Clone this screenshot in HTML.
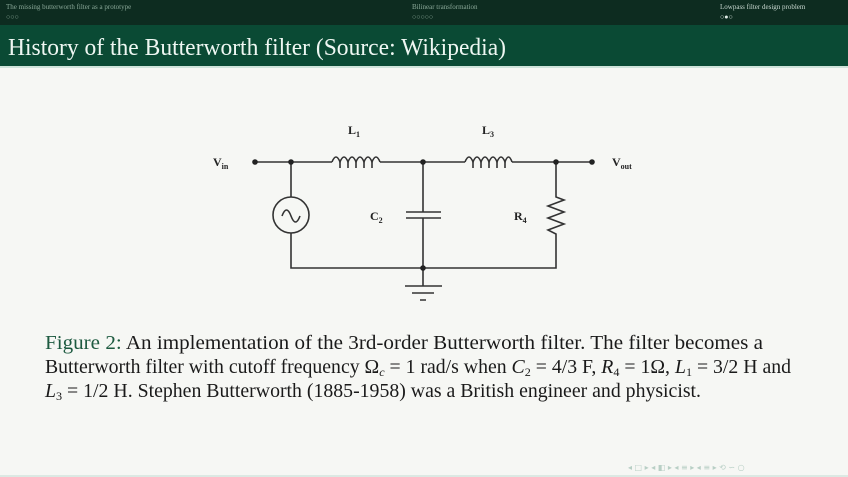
<!DOCTYPE html>
<html><head><meta charset="utf-8"><style>
html,body{margin:0;padding:0;}
body{width:848px;height:477px;overflow:hidden;background:#f6f7f4;font-family:"Liberation Serif",serif;position:relative;}
</style></head><body>
<svg width="848" height="477" viewBox="0 0 848 477" style="position:absolute;left:0;top:0">
<rect x="0" y="0" width="848" height="25" fill="#0d2c20"/>
<rect x="0" y="25" width="848" height="41" fill="#0a4a34"/>
<rect x="0" y="66" width="848" height="2" fill="#cfe3da"/>
<g font-family="Liberation Serif" font-size="7" fill="#8aa898">
<text x="6" y="9">The missing butterworth filter as a prototype</text>
<text x="6" y="19">○○○</text>
<text x="412" y="9">Bilinear transformation</text>
<text x="412" y="19">○○○○○</text>
<text x="720" y="9" fill="#c9d8d0">Lowpass filter design problem</text>
<text x="720" y="19" fill="#e0ece6">○●○</text>
</g>
<text x="8" y="55" font-family="Liberation Serif" font-size="24" fill="#eef7f2" textLength="498" lengthAdjust="spacingAndGlyphs">History of the Butterworth filter (Source: Wikipedia)</text>

<g stroke="#333" stroke-width="1.6" fill="none">
<path d="M255 162 H332 M380 162 H465 M512 162 H592"/>
<path d="M332 162 q4 -10 8 0 q4 -10 8 0 q4 -10 8 0 q4 -10 8 0 q4 -10 8 0 q4 -10 8 0"/>
<path d="M340 162 v6 M348 162 v6 M356 162 v6 M364 162 v6 M372 162 v6"/>
<path d="M465 162 q4 -10 8 0 q4 -10 8 0 q4 -10 8 0 q4 -10 8 0 q4 -10 8 0 q3.5 -10 7 0"/>
<path d="M473 162 v6 M481 162 v6 M489 162 v6 M497 162 v6 M505 162 v6"/>
<path d="M291 162 V197 M291 233 V268 H556 V234 L548 230 L564 224 L548 218 L564 212 L548 206 L564 200 L556 197 V162"/>
<circle cx="291" cy="215" r="18"/>
<path d="M282 216 q4.5 -12 9 0 q4.5 12 9 0"/>
<path d="M423 162 V212 M423 218 V268 M406 212 H441 M406 218 H441"/>
<path d="M423 268 V286 M405 286 H442 M412 293 H434 M420 300 H426"/>
</g>
<g fill="#222">
<circle cx="255" cy="162" r="2.8"/><circle cx="291" cy="162" r="2.8"/>
<circle cx="423" cy="162" r="2.8"/><circle cx="556" cy="162" r="2.8"/>
<circle cx="592" cy="162" r="2.8"/><circle cx="423" cy="268" r="2.8"/>
</g>
<g font-family="Liberation Serif" font-size="12" font-weight="bold" fill="#222">
<text x="213" y="166">V<tspan font-size="8" dy="3">in</tspan></text>
<text x="612" y="166">V<tspan font-size="8" dy="3">out</tspan></text>
<text x="348" y="134">L<tspan font-size="8" dy="3">1</tspan></text>
<text x="482" y="134">L<tspan font-size="8" dy="3">3</tspan></text>
<text x="370" y="220">C<tspan font-size="8" dy="3">2</tspan></text>
<text x="514" y="220">R<tspan font-size="8" dy="3">4</tspan></text>
</g>
<g font-family="Liberation Serif" font-size="19.5" fill="#1a1a1a">
<text x="45" y="349" textLength="718" lengthAdjust="spacingAndGlyphs"><tspan fill="#1d5a40">Figure 2:</tspan> An implementation of the 3rd-order Butterworth filter. The filter becomes a</text>
<text x="45" y="373" textLength="746" lengthAdjust="spacingAndGlyphs">Butterworth filter with cutoff frequency Ω<tspan font-style="italic" font-size="12" dy="3">c</tspan><tspan dy="-3"> = 1 rad/s when </tspan><tspan font-style="italic">C</tspan><tspan font-size="12" dy="3">2</tspan><tspan dy="-3"> = 4/3 F, </tspan><tspan font-style="italic">R</tspan><tspan font-size="12" dy="3">4</tspan><tspan dy="-3"> = 1Ω, </tspan><tspan font-style="italic">L</tspan><tspan font-size="12" dy="3">1</tspan><tspan dy="-3"> = 3/2 H and</tspan></text>
<text x="45" y="397" textLength="656" lengthAdjust="spacingAndGlyphs"><tspan font-style="italic">L</tspan><tspan font-size="12" dy="3">3</tspan><tspan dy="-3"> = 1/2 H. Stephen Butterworth (1885-1958) was a British engineer and physicist.</tspan></text>
</g>
<g font-family="DejaVu Sans" font-size="8" fill="#b8cfc5">
<text x="628" y="470">◂ □ ▸ ◂ ◧ ▸ ◂ ≡ ▸ ◂ ≡ ▸  ⟲  ∽ ○</text>
</g>
<rect x="0" y="475" width="848" height="2" fill="#dce9e3"/>
</svg>
</body></html>
